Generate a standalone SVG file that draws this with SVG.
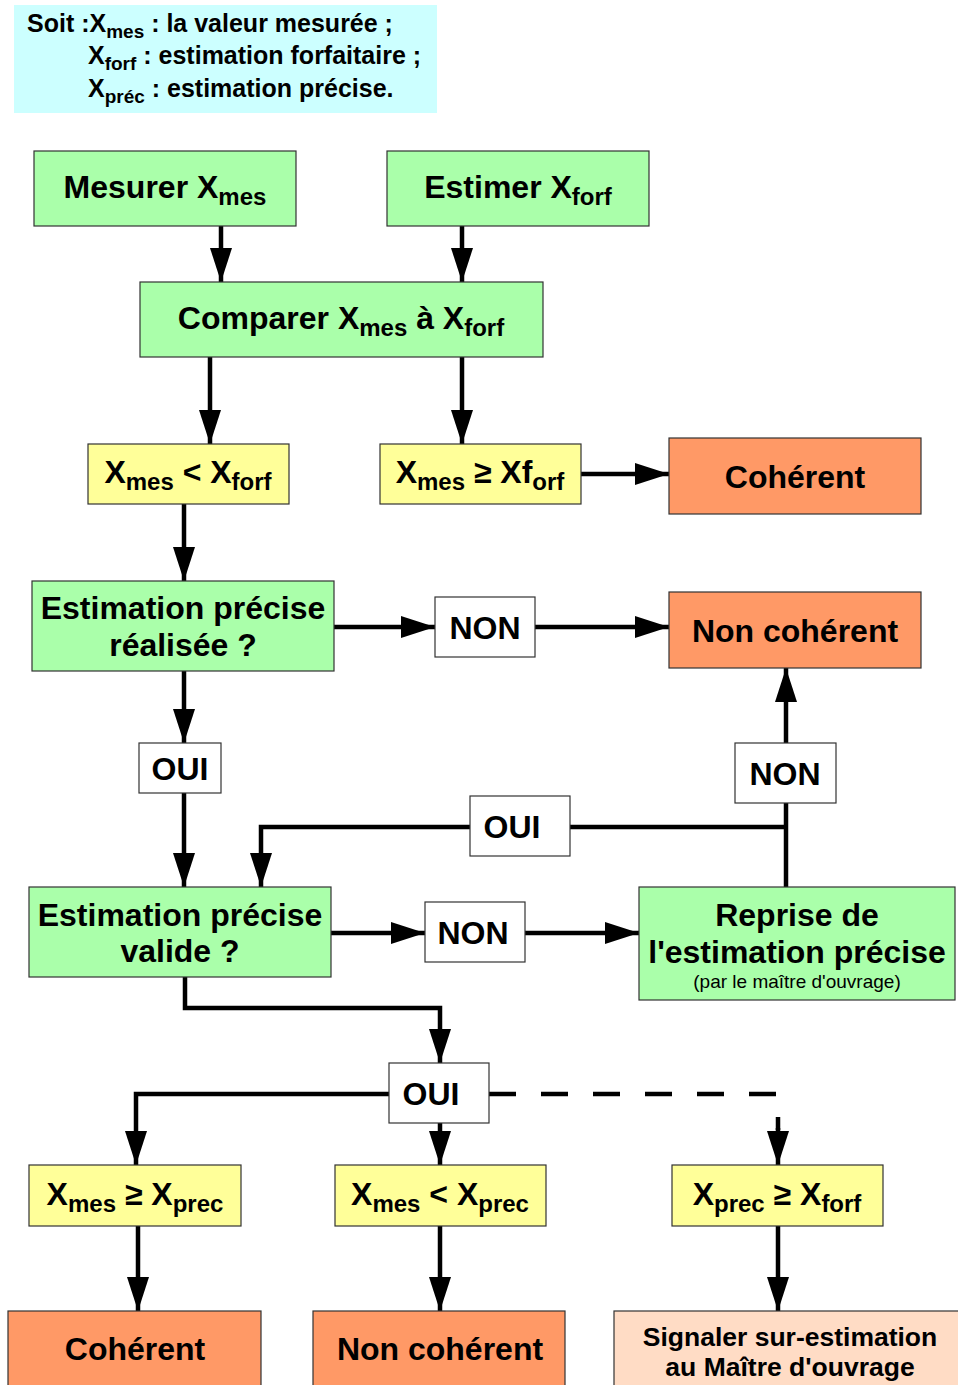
<svg xmlns="http://www.w3.org/2000/svg" width="958" height="1385" viewBox="0 0 958 1385">
<defs>
<marker id="ah" markerUnits="userSpaceOnUse" markerWidth="34" markerHeight="22" refX="34" refY="11" orient="auto">
<path d="M0,0 L34,11 L0,22 z" fill="#000"/>
</marker>
<style>
.g{fill:#aaffaa;stroke:#333;stroke-width:1.2}
.y{fill:#ffff99;stroke:#333;stroke-width:1.2}
.o{fill:#ff9966;stroke:#333;stroke-width:1.2}
.p{fill:#ffdcc5;stroke:#333;stroke-width:1.2}
.w{fill:#fff;stroke:#333;stroke-width:1.2}
.t{font-family:"Liberation Sans",Arial,sans-serif;font-weight:bold;font-size:32px;fill:#000;text-anchor:middle}
.s{font-size:24px}
.lg{font-family:"Liberation Sans",Arial,sans-serif;font-weight:bold;font-size:25px;fill:#000}
.ls{font-size:19px}
.c{fill:none;stroke:#000;stroke-width:4.5}
.a{marker-end:url(#ah)}
.d{stroke-dasharray:27 25}
</style>
</defs>
<rect width="958" height="1385" fill="#fff"/>
<g id="legend">
<rect x="14" y="5" width="423" height="108" fill="#ccffff"/>
<text class="lg" x="27" y="32">Soit :X<tspan class="ls" dy="6">mes</tspan><tspan dy="-6"> : la valeur mesurée ;</tspan></text>
<text class="lg" x="88" y="64">X<tspan class="ls" dy="6">forf</tspan><tspan dy="-6"> : estimation forfaitaire ;</tspan></text>
<text class="lg" x="88" y="97">X<tspan class="ls" dy="6">préc</tspan><tspan dy="-6"> : estimation précise.</tspan></text>
</g>
<g id="connectors">
<path class="c a" d="M221,226 V282"/>
<path class="c a" d="M462,226 V282"/>
<path class="c a" d="M210,357 V444"/>
<path class="c a" d="M462,357 V444"/>
<path class="c a" d="M581,474 H669"/>
<path class="c a" d="M184,504 V581"/>
<path class="c a" d="M334,627 H435"/>
<path class="c a" d="M535,627 H669"/>
<path class="c a" d="M184,671 V743"/>
<path class="c a" d="M184,793 V887"/>
<path class="c" d="M786,887 V803"/>
<path class="c a" d="M786,743 V668"/>
<path class="c" d="M786,827 H570"/>
<path class="c a" d="M470,827 H261 V887"/>
<path class="c a" d="M331,933 H425"/>
<path class="c a" d="M525,933 H639"/>
<path class="c a" d="M185,977 V1008 H440 V1063"/>
<path class="c a" d="M389,1094 H136 V1165"/>
<path class="c a" d="M440,1123 V1165"/>
<path class="c d" d="M489,1094 H778 V1130"/>
<path class="c a" d="M778,1128 V1165"/>
<path class="c a" d="M138,1226 V1311"/>
<path class="c a" d="M440,1226 V1311"/>
<path class="c a" d="M778,1226 V1311"/>
</g>
<g id="mesurer">
<rect class="g" x="34" y="151" width="262" height="75"/>
<text class="t" x="165" y="198">Mesurer X<tspan class="s" dy="7">mes</tspan></text>
</g>
<g id="estimer">
<rect class="g" x="387" y="151" width="262" height="75"/>
<text class="t" x="518" y="198">Estimer X<tspan class="s" dy="7">forf</tspan></text>
</g>
<g id="comparer">
<rect class="g" x="140" y="282" width="403" height="75"/>
<text class="t" x="341" y="329">Comparer X<tspan class="s" dy="7">mes</tspan><tspan dy="-7"> à X</tspan><tspan class="s" dy="7">forf</tspan></text>
</g>
<g id="inf-forf">
<rect class="y" x="88" y="444" width="201" height="60"/>
<text class="t" x="188" y="483">X<tspan class="s" dy="7">mes</tspan><tspan dy="-7"> &lt; X</tspan><tspan class="s" dy="7">forf</tspan></text>
</g>
<g id="sup-forf">
<rect class="y" x="380" y="444" width="201" height="60"/>
<text class="t" x="480" y="483">X<tspan class="s" dy="7">mes</tspan><tspan dy="-7"> ≥ Xf</tspan><tspan class="s" dy="7">orf</tspan></text>
</g>
<g id="coherent1">
<rect class="o" x="669" y="438" width="252" height="76"/>
<text class="t" x="795" y="488">Cohérent</text>
</g>
<g id="realisee">
<rect class="g" x="32" y="581" width="302" height="90"/>
<text class="t" x="183" y="619">Estimation précise</text>
<text class="t" x="183" y="656">réalisée ?</text>
</g>
<g id="non1">
<rect class="w" x="435" y="597" width="100" height="60"/>
<text class="t" x="485" y="639">NON</text>
</g>
<g id="noncoherent1">
<rect class="o" x="669" y="592" width="252" height="76"/>
<text class="t" x="795" y="642">Non cohérent</text>
</g>
<g id="oui1">
<rect class="w" x="139" y="743" width="82" height="50"/>
<text class="t" x="180" y="780">OUI</text>
</g>
<g id="non2">
<rect class="w" x="735" y="743" width="101" height="60"/>
<text class="t" x="785" y="785">NON</text>
</g>
<g id="oui2">
<rect class="w" x="470" y="796" width="100" height="60"/>
<text class="t" x="512" y="838">OUI</text>
</g>
<g id="valide">
<rect class="g" x="29" y="887" width="302" height="90"/>
<text class="t" x="180" y="926">Estimation précise</text>
<text class="t" x="180" y="962">valide ?</text>
</g>
<g id="non3">
<rect class="w" x="425" y="902" width="100" height="60"/>
<text class="t" x="473" y="944">NON</text>
</g>
<g id="reprise">
<rect class="g" x="639" y="887" width="316" height="113"/>
<text class="t" x="797" y="926">Reprise de</text>
<text class="t" x="797" y="963">l'estimation précise</text>
<text x="797" y="988" font-family="Liberation Sans,Arial,sans-serif" font-size="19" text-anchor="middle">(par le maître d'ouvrage)</text>
</g>
<g id="oui3">
<rect class="w" x="389" y="1063" width="100" height="60"/>
<text class="t" x="431" y="1105">OUI</text>
</g>
<g id="sup-prec">
<rect class="y" x="29" y="1165" width="212" height="61"/>
<text class="t" x="135" y="1205">X<tspan class="s" dy="7">mes</tspan><tspan dy="-7"> ≥ X</tspan><tspan class="s" dy="7">prec</tspan></text>
</g>
<g id="inf-prec">
<rect class="y" x="335" y="1165" width="211" height="61"/>
<text class="t" x="440" y="1205">X<tspan class="s" dy="7">mes</tspan><tspan dy="-7"> &lt; X</tspan><tspan class="s" dy="7">prec</tspan></text>
</g>
<g id="prec-forf">
<rect class="y" x="672" y="1165" width="211" height="61"/>
<text class="t" x="777" y="1205">X<tspan class="s" dy="7">prec</tspan><tspan dy="-7"> ≥ X</tspan><tspan class="s" dy="7">forf</tspan></text>
</g>
<g id="coherent2">
<rect class="o" x="8" y="1311" width="253" height="80"/>
<text class="t" x="135" y="1360">Cohérent</text>
</g>
<g id="noncoherent2">
<rect class="o" x="313" y="1311" width="252" height="80"/>
<text class="t" x="440" y="1360">Non cohérent</text>
</g>
<g id="signaler">
<rect class="p" x="614" y="1311" width="350" height="80"/>
<text class="t" x="790" y="1346" style="font-size:26.5px">Signaler sur-estimation</text>
<text class="t" x="790" y="1376" style="font-size:26.5px">au Maître d'ouvrage</text>
</g>
</svg>
